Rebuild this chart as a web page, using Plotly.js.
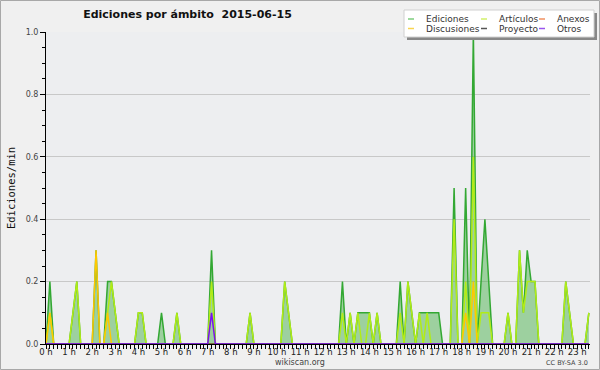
<!DOCTYPE html>
<html><head><meta charset="utf-8">
<script src="https://cdn.plot.ly/plotly-3.0.1.min.js"></script>
<style>html,body{margin:0;padding:0;background:#f0f0f0;overflow:hidden}#chart{width:600px;height:370px}</style>
</head><body><div id="chart"></div>
<script>
// 10-minute bins, one row per hour (values in edits per minute)
const hourLabels = ['0 h','1 h','2 h','3 h','4 h','5 h','6 h','7 h','8 h','9 h','10 h','11 h',
  '12 h','13 h','14 h','15 h','16 h','17 h','18 h','19 h','20 h','21 h','22 h','23 h'];
const hourTicks = [0,1,2,3,4,5,6,7,8,9,10,11,12,13,14,15,16,17,18,19,20,21,22,23];

const ediciones = [
  0,0.2,0,0,0,0,      0,0.1,0.2,0,0,0,     0,0.3,0,0,0.2,0.2,   0.1,0,0,0,0,0,
  0.1,0.1,0,0,0,0,    0.1,0,0,0,0.1,0,     0,0,0,0,0,0,         0,0.3,0,0,0,0,
  0,0,0,0,0,0.1,      0,0,0,0,0,0,         0,0,0.2,0.1,0,0,     0,0,0,0,0,0,
  0,0,0,0,0,0.2,      0,0.1,0,0.1,0.1,0.1, 0.1,0,0.1,0,0,0,     0,0,0.2,0,0.2,0.1,
  0,0.1,0.1,0.1,0.1,0.1, 0.1,0,0,0,0.5,0,  0,0.5,0,1.0,0,0.2,   0.4,0.2,0,0,0,0,
  0.1,0,0,0.3,0.1,0.3, 0.2,0.2,0,0,0,0,    0,0,0,0.2,0.1,0,     0,0,0,0.1
];
const articulos = [
  0,0.1,0,0,0,0,      0,0.1,0.2,0,0,0,     0,0,0,0,0.1,0.2,     0.1,0,0,0,0,0,
  0.1,0.1,0,0,0,0,    0,0,0,0,0.1,0,       0,0,0,0,0,0,         0,0.2,0,0,0,0,
  0,0,0,0,0,0.1,      0,0,0,0,0,0,         0,0,0.2,0.1,0,0,     0,0,0,0,0,0,
  0,0,0,0,0,0.1,      0,0.1,0,0.1,0,0,     0.1,0,0.1,0,0,0,     0,0,0.1,0,0.2,0.1,
  0,0.1,0,0.1,0,0,    0,0,0,0,0.4,0,       0,0.2,0,0.6,0,0.1,   0.1,0.1,0,0,0,0,
  0.1,0,0,0.3,0.1,0.2, 0.2,0.2,0,0,0,0,    0,0,0,0.2,0.1,0,     0,0,0,0.1
];
const anexos = [
  0,0,0,0,0,0, 0,0,0,0,0,0, 0,0,0,0,0,0, 0,0,0,0,0,0,
  0,0,0,0,0,0, 0,0,0,0,0,0, 0,0,0,0,0,0, 0,0,0,0,0,0,
  0,0,0,0,0,0, 0,0,0,0,0,0, 0,0,0,0,0,0, 0,0,0,0,0,0,
  0,0,0,0,0,0, 0,0,0,0,0,0, 0,0,0,0,0,0, 0,0,0,0,0,0,
  0,0,0,0,0,0, 0,0,0,0,0,0, 0,0,0,0,0,0, 0,0,0,0,0,0,
  0,0,0,0,0,0, 0,0,0,0,0,0, 0,0,0,0,0,0, 0,0,0,0
];
const discusiones = [
  0,0.1,0,0,0,0, 0,0,0,0,0,0, 0,0.3,0,0,0.1,0, 0,0,0,0,0,0,
  0,0,0,0,0,0,   0,0,0,0,0,0, 0,0,0,0,0,0,     0,0,0,0,0,0,
  0,0,0,0,0,0,   0,0,0,0,0,0, 0,0,0,0,0,0,     0,0,0,0,0,0,
  0,0,0,0,0,0,   0,0,0,0,0,0, 0,0,0,0,0,0,     0,0,0,0,0,0,
  0,0,0,0,0,0,   0,0,0,0,0,0, 0,0.1,0,0.2,0,0, 0,0,0,0,0,0,
  0,0,0,0,0,0,   0,0,0,0,0,0, 0,0,0,0,0,0,     0,0,0,0
];
const proyecto = [
  0,0,0,0,0,0, 0,0,0,0,0,0, 0,0,0,0,0,0, 0,0,0,0,0,0,
  0,0,0,0,0,0, 0,0,0,0,0,0, 0,0,0,0,0,0, 0,0,0,0,0,0,
  0,0,0,0,0,0, 0,0,0,0,0,0, 0,0,0,0,0,0, 0,0,0,0,0,0,
  0,0,0,0,0,0, 0,0,0,0,0,0, 0,0,0,0,0,0, 0,0,0,0,0,0,
  0,0,0,0,0,0, 0,0,0,0,0,0, 0,0,0,0,0,0, 0,0,0,0,0,0,
  0,0,0,0,0,0, 0,0,0,0,0,0, 0,0,0,0,0,0, 0,0,0,0
];
const otros = [
  0,0,0,0,0,0, 0,0,0,0,0,0, 0,0,0,0,0,0, 0,0,0,0,0,0,
  0,0,0,0,0,0, 0,0,0,0,0,0, 0,0,0,0,0,0, 0,0.1,0,0,0,0,
  0,0,0,0,0,0, 0,0,0,0,0,0, 0,0,0,0,0,0, 0,0,0,0,0,0,
  0,0,0,0,0,0, 0,0,0,0,0,0, 0,0,0,0,0,0, 0,0,0,0,0,0,
  0,0,0,0,0,0, 0,0,0,0,0,0, 0,0,0,0,0,0, 0,0,0,0,0,0,
  0,0,0,0,0,0, 0,0,0,0,0,0, 0,0,0,0,0,0, 0,0,0,0
];
const seriesNames = ['Ediciones','Artículos','Anexos','Discusiones','Proyecto','Otros'];

// time of each 10-minute bin, in hours
const binHours = ediciones.map((v, i) => i * 10 / 60);

const lineColors = {
  'Ediciones':'#33a833','Artículos':'#b2ec16','Anexos':'#f08040',
  'Discusiones':'#ffc800','Proyecto':'#555555','Otros':'#7a10f0'
};
const legendColors = {
  'Ediciones':'#7ccc7c','Artículos':'#d2f06a','Anexos':'#f09060',
  'Discusiones':'#f8d450','Proyecto':'#555555','Otros':'#9955ee'
};
const seriesData = [ediciones, articulos, anexos, discusiones, proyecto, otros];

const traces = seriesNames.map((name, k) => {
  const t = {
    type:'scatter', mode:'lines', name:name, x:binHours, y:seriesData[k],
    line:{color:lineColors[name], width:1.5}, showlegend:false, hoverinfo:'skip'
  };
  if (k === 0) { t.fill = 'tozeroy'; t.fillcolor = 'rgba(60,170,60,0.45)'; }
  return t;
});

// pixel helpers for decorations (plot area 46..590 x 32..344)
const L = 46, R = 590, T = 32, B = 344;
const px = v => (v - L) / (R - L);
const py = v => (B - v) / (B - T);

const annotations = [
  {text:'wikiscan.org', x:px(300), y:py(362), xref:'paper', yref:'paper', showarrow:false,
   xanchor:'center', yanchor:'middle', font:{family:'DejaVu Sans', size:8, color:'#444'}},
  {text:'CC BY-SA 3.0', x:px(590), y:py(362.5), xref:'paper', yref:'paper', showarrow:false,
   xanchor:'right', yanchor:'middle', font:{family:'DejaVu Sans', size:6.5, color:'#444'}}
];
const shapes = [
  {type:'rect', xref:'paper', yref:'paper', x0:px(0.5), x1:px(599.5), y0:py(369.5), y1:py(0.5),
   line:{color:'#a8a8a8', width:1}, fillcolor:'rgba(0,0,0,0)', layer:'above'},
  {type:'rect', xref:'paper', yref:'paper', x0:px(407), x1:px(597), y0:py(40), y1:py(13),
   line:{width:0}, fillcolor:'#888888', layer:'above'},
  {type:'rect', xref:'paper', yref:'paper', x0:px(404), x1:px(594), y0:py(37), y1:py(10),
   line:{color:'#d0d0d0', width:1}, fillcolor:'#ffffff', layer:'above'}
];
// legend: 3 columns x 2 rows
const legendCols = [[408, 424], [481, 497], [539, 555]];
const legendRows = [19, 28.5];
const legendOrder = [['Ediciones','Artículos','Anexos'], ['Discusiones','Proyecto','Otros']];
legendOrder.forEach((row, r) => row.forEach((name, c) => {
  const [sx, tx] = legendCols[c];
  const yy = legendRows[r];
  shapes.push({type:'line', xref:'paper', yref:'paper', x0:px(sx), x1:px(sx + 6), y0:py(yy), y1:py(yy),
    line:{color:legendColors[name], width:1.5}, layer:'above'});
  annotations.push({text:name, x:px(tx), y:py(yy), xref:'paper', yref:'paper', showarrow:false,
    xanchor:'left', yanchor:'middle', font:{family:'DejaVu Sans', size:9, color:'#333'}});
}));

const layout = {
  width:600, height:370,
  margin:{l:L, r:600 - R, t:T, b:370 - B, pad:0},
  paper_bgcolor:'#f0f0f0', plot_bgcolor:'#edeef0',
  title:{text:'Ediciones por ámbito\u00a0\u00a02015-06-15', x:px(187.5), xref:'paper', xanchor:'center',
    y:1 - 14 / 370, yref:'container', yanchor:'middle',
    font:{family:'DejaVu Sans', size:11, color:'#111', weight:'bold'}},
  showlegend:false,
  xaxis:{range:[0, 23.55], tickmode:'array', tickvals:hourTicks, ticktext:hourLabels,
    ticks:'outside', ticklen:4, tickwidth:1, tickcolor:'#000', showline:true, linecolor:'#000', linewidth:1,
    showgrid:false, zeroline:false, ticklabelstandoff:-4,
    tickfont:{family:'DejaVu Sans', size:8.5, color:'#222'},
    minor:{tickmode:'linear', tick0:0, dtick:1/6, ticks:'outside', ticklen:4, tickcolor:'#000', tickwidth:1, showgrid:false},
    fixedrange:true},
  yaxis:{range:[0, 1], tickmode:'linear', tick0:0, dtick:0.2, tickformat:'.1f',
    ticks:'outside', ticklen:5, tickwidth:1, tickcolor:'#000', showline:true, linecolor:'#000', linewidth:1,
    showgrid:true, gridcolor:'#c8c8c8', gridwidth:1, zeroline:false,
    tickfont:{family:'DejaVu Sans', size:8, color:'#444'},
    minor:{tickmode:'linear', tick0:0, dtick:0.05, ticks:'outside', ticklen:3, tickcolor:'#000', tickwidth:1, showgrid:false},
    title:{text:'Ediciones/min', standoff:7, font:{family:'DejaVu Sans Mono', size:10.5, color:'#111'}},
    fixedrange:true},
  annotations:annotations, shapes:shapes
};
Plotly.newPlot('chart', traces, layout, {staticPlot:true, displayModeBar:false});
</script>
</body></html>
